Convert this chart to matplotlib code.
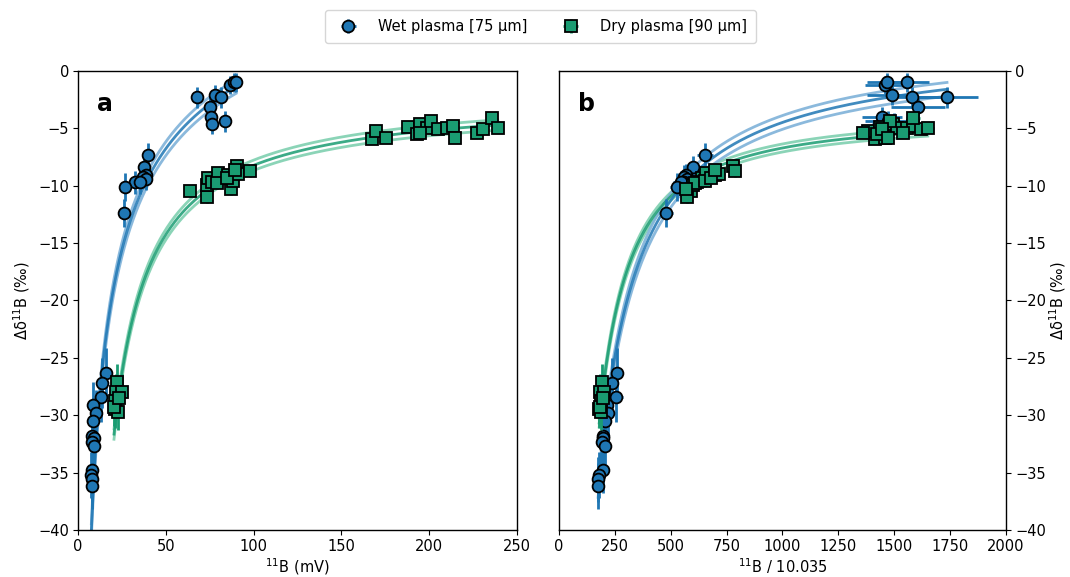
import numpy as np
import matplotlib
matplotlib.use('Agg')
import matplotlib.pyplot as plt

# ---------------- data ----------------
# Wet plasma [75 µm]
wet_y = [-26.3, -27.2, -28.4, -29.1, -29.8, -30.5, -31.8, -32.0, -32.3, -32.7, -34.8, -35.2, -35.6, -36.2,
         -7.3, -8.4, -9.1, -9.2, -9.4, -9.7, -9.7, -10.1, -12.4,
         -2.3, -2.1, -2.3, -3.1, -4.0, -4.6, -4.4, -1.2, -1.0, -1.0]
wet_yerr = [2.2, 2.2, 2.2, 2.0, 2.0, 2.0, 2.0, 2.0, 2.0, 2.0, 2.0, 2.0, 2.0, 2.0,
            1.0, 1.0, 1.0, 1.0, 1.0, 1.0, 1.0, 1.2, 1.2,
            0.9, 0.9, 0.9, 0.9, 0.9, 0.9, 0.9, 0.8, 0.8, 0.8]
wet_a_x = [16.0, 13.8, 13.1, 8.5, 10.3, 8.5, 8.0, 9.1, 8.0, 9.1, 8.0, 7.6, 8.0, 8.0,
           40.0, 37.8, 38.6, 37.0, 39.0, 32.5, 35.3, 26.8, 26.2,
           67.6, 78.0, 81.4, 75.2, 75.7, 76.3, 83.7, 86.6, 88.8, 90.0]
wet_b_x = [259, 237, 255, 215, 219, 206, 197, 197, 192, 206, 197, 179, 175, 175,
           653, 600, 570, 560, 575, 559, 545, 528, 479,
           1736, 1490, 1580, 1606, 1445, 1500, 1470, 1459, 1467, 1557]
wet_b_xerr = [25, 25, 30, 25, 25, 25, 20, 20, 20, 20, 20, 20, 20, 20,
              35, 35, 35, 35, 35, 35, 35, 30, 30,
              140, 110, 120, 120, 90, 100, 100, 90, 90, 100]

# Dry plasma [90 µm]
dry_y = [-27.1, -28.0, -28.0, -28.8, -29.5, -29.7, -29.3, -28.5,
         -10.5, -11.0, -9.9, -9.3, -9.7, -8.9, -9.8, -9.1, -10.3, -9.6, -8.3, -9.0, -8.7, -9.3, -8.6,
         -5.9, -5.2, -5.8, -4.9, -5.5, -4.6, -5.0, -4.4, -5.1, -5.0, -4.8, -5.8, -5.4, -5.1, -4.1, -5.0, -5.4]
dry_yerr = [1.6, 1.6, 1.6, 1.6, 1.6, 1.6, 1.6, 1.6,
            0.5, 0.5, 0.5, 0.5, 0.5, 0.5, 0.5, 0.5, 0.5, 0.5, 0.5, 0.5, 0.5, 0.5, 0.5,
            0.4, 0.4, 0.4, 0.4, 0.4, 0.4, 0.4, 0.4, 0.4, 0.4, 0.4, 0.4, 0.4, 0.4, 0.4, 0.4, 0.4]
dry_a_x = [22.2, 21.6, 25.0, 21.0, 21.0, 22.8, 20.5, 23.5,
           63.8, 73.5, 73.5, 74.0, 76.3, 79.7, 79.0, 85.4, 87.0, 88.0, 90.5, 91.0, 98.0, 85.0, 89.4,
           167.4, 169.7, 175.4, 188.0, 193.0, 194.8, 198.7, 201.0, 205.0, 210.0, 213.6, 214.7, 227.0,
           230.6, 235.8, 239.0, 194.8]
dry_b_x = [192, 184, 200, 186, 180, 190, 184, 195,
           590, 572, 600, 640, 617, 658, 610, 700, 568, 653, 778, 716, 787, 680, 698,
           1414, 1383, 1459, 1436, 1423, 1494, 1512, 1480, 1445, 1557, 1584, 1470, 1360, 1620,
           1584, 1650, 1540]
dry_b_xerr = [15] * 8 + [25] * 15 + [30] * 17

# fitted curves: y = A - B * x**(-c), band = +/- offset on A
wet_a_fit = [14.5, 150.4, 0.5, 0.6]
dry_a_fit = [-2.18, 604.0, 1.0, 0.45]
wet_b_fit = [2.32, 6803.0, 1.0, 0.6]
dry_b_fit = [-3.82, 22960.0, 1.3, 0.35]

wet_label = 'Wet plasma [75 µm]'
dry_label = 'Dry plasma [90 µm]'

# ---------------- styling ----------------
WET = '#1f77b4'
DRY = '#1a9c72'
WET_LIGHT = '#7fb2d9'
DRY_LIGHT = '#7fd0b0'
FS = 10.5

plt.rcParams['font.family'] = ['DejaVu Sans']
plt.rcParams['font.size'] = FS

fig = plt.figure(figsize=(10.7, 5.77), dpi=100)
ax_a = fig.add_axes([0.0729, 0.0815, 0.4103, 0.7955])
ax_b = fig.add_axes([0.5224, 0.0815, 0.4178, 0.7955])


def draw_fit(ax, xs, fit, c_main, c_light):
    A, B, c, d = fit
    x = np.linspace(min(xs), max(xs), 400)
    y = A - B * x ** (-c)
    ax.plot(x, y + d, color=c_light, lw=2, alpha=0.9, zorder=1)
    ax.plot(x, y - d, color=c_light, lw=2, alpha=0.9, zorder=1)
    ax.plot(x, y, color=c_main, lw=2, alpha=0.85, zorder=1.5)


# panel a
draw_fit(ax_a, wet_a_x, wet_a_fit, WET, WET_LIGHT)
draw_fit(ax_a, dry_a_x, dry_a_fit, DRY, DRY_LIGHT)
ax_a.errorbar(wet_a_x, wet_y, yerr=wet_yerr, fmt='o', color=WET, ecolor=WET, elinewidth=2,
              ms=8.5, mec='black', mew=1.3, capsize=0, zorder=3)
ax_a.errorbar(dry_a_x, dry_y, yerr=dry_yerr, fmt='s', color=DRY, ecolor=DRY, elinewidth=2,
              ms=8.5, mec='black', mew=1.3, capsize=0, zorder=4)

# panel b
draw_fit(ax_b, dry_b_x, dry_b_fit, DRY, DRY_LIGHT)
draw_fit(ax_b, wet_b_x, wet_b_fit, WET, WET_LIGHT)
hw = ax_b.errorbar(wet_b_x, wet_y, xerr=wet_b_xerr, yerr=wet_yerr, fmt='o', color=WET, ecolor=WET,
                   elinewidth=2, ms=8.5, mec='black', mew=1.3, capsize=0, zorder=3, label=wet_label)
hd = ax_b.errorbar(dry_b_x, dry_y, xerr=dry_b_xerr, yerr=dry_yerr, fmt='s', color=DRY, ecolor=DRY,
                   elinewidth=2, ms=8.5, mec='black', mew=1.3, capsize=0, zorder=4, label=dry_label)

for ax in (ax_a, ax_b):
    ax.set_ylim(-40, 0)
    ax.set_yticks(np.arange(-40, 1, 5))
    ax.tick_params(direction='out', length=3.5, labelsize=FS, pad=3)
    for s in ax.spines.values():
        s.set_linewidth(1.0)

ax_a.set_xlim(0, 250)
ax_a.set_xticks(np.arange(0, 251, 50))
ax_a.set_xlabel(r'$^{11}$B (mV)', fontsize=FS, labelpad=2)
ax_a.set_ylabel(r'Δδ$^{11}$B (‰)', fontsize=FS, labelpad=4)
ax_a.text(0.043, 0.955, 'a', transform=ax_a.transAxes, fontsize=17, fontweight='bold', va='top')

ax_b.set_xlim(0, 2000)
ax_b.set_xticks(np.arange(0, 2001, 250))
ax_b.set_xlabel(r'$^{11}$B / 10.035', fontsize=FS, labelpad=2)
ax_b.yaxis.tick_right()
ax_b.yaxis.set_label_position('right')
ax_b.set_ylabel(r'Δδ$^{11}$B (‰)', fontsize=FS, labelpad=1)
ax_b.text(0.043, 0.955, 'b', transform=ax_b.transAxes, fontsize=17, fontweight='bold', va='top')

fig.legend(handles=[hw, hd], loc='upper center', bbox_to_anchor=(0.505, 0.995), ncol=2,
           fontsize=FS, frameon=True, handletextpad=1.0, columnspacing=2.0, borderpad=0.6)

fig.savefig('out.png', dpi=100)
